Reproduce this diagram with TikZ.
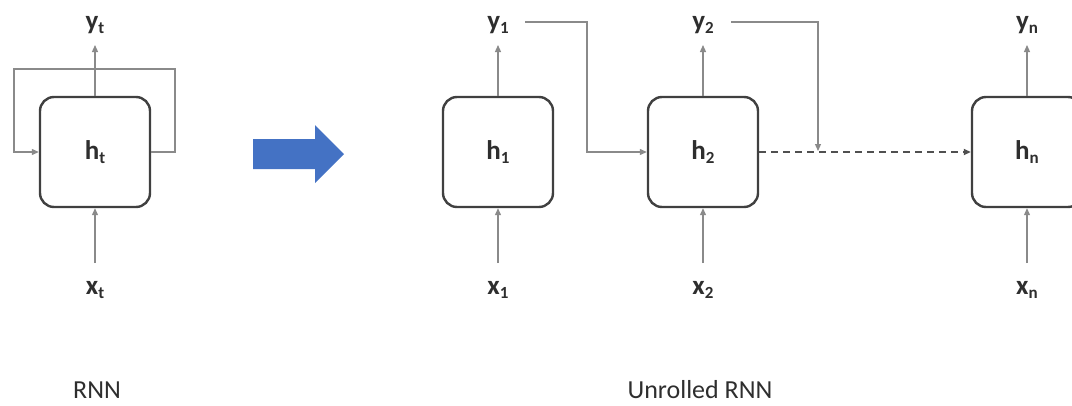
\documentclass[tikz,border=0pt]{standalone}
\usepackage{fontspec}
\setmainfont{Carlito}
\usetikzlibrary{arrows.meta}
\definecolor{boxgray}{HTML}{404040}
\definecolor{linegray}{HTML}{8A8A8A}
\definecolor{dashgray}{HTML}{505050}
\definecolor{txt}{HTML}{2E2E2E}
\definecolor{arrowblue}{HTML}{4472C4}
% subscript set in the text font
\newcommand\lowsub[1]{\raisebox{-0.35ex}{\fontsize{17}{17}\selectfont #1}}
\begin{document}
\begin{tikzpicture}[x=1pt,y=-1pt,
  cell/.style={draw=boxgray, line width=2.4pt, rounded corners=14pt,
    minimum width=110pt, minimum height=110pt, inner sep=0pt,
    font=\fontsize{27}{27}\selectfont\bfseries, text=txt},
  lbl/.style={font=\fontsize{27}{27}\selectfont\bfseries, inner sep=0pt, text=txt},
  caption/.style={font=\fontsize{26}{26}\selectfont, inner sep=0pt, text=txt},
  tip/.style={-{Triangle[length=7pt,width=6pt]}},
  conn/.style={draw=linegray, line width=1.2pt, tip},
  link/.style={draw=dashgray, line width=2pt, dash pattern=on 7pt off 5pt, tip}
]
\useasboundingbox (0,0) rectangle (1072,405);
\clip (0,0) rectangle (1072,405);

% folded RNN
\node[cell] (ht) at (95,152) {h\lowsub{t}};
\node[lbl] (yt) at (95,25) {y\lowsub{t}};
\node[lbl] (xt) at (95,290) {x\lowsub{t}};
\draw[conn] (ht.north) -- ([yshift=-20pt]yt.center);
\draw[conn] ([yshift=27pt]xt.center) -- (ht.south);
\coordinate (loopR) at (175,69);
\coordinate (loopL) at (14,152);
\draw[conn] (ht.east) -| (loopR) -| (loopL) -- (ht.west);

% unfold arrow
\fill[arrowblue] (253,139) -- (315,139) -- (315,125) -- (344,154)
  -- (315,183) -- (315,169) -- (253,169) -- cycle;

% unrolled RNN
\node[cell] (h1) at (498,152) {h\lowsub{1}};
\node[cell] (h2) at (703,152) {h\lowsub{2}};
\node[cell] (hn) at (1027,152) {h\lowsub{n}};

\node[lbl] (y1) at (498,25) {y\lowsub{1}};
\node[lbl] (y2) at (703,25) {y\lowsub{2}};
\node[lbl] (yn) at (1027,25) {y\lowsub{n}};

\node[lbl] (x1) at (498,290) {x\lowsub{1}};
\node[lbl] (x2) at (703,290) {x\lowsub{2}};
\node[lbl] (xn) at (1027,290) {x\lowsub{n}};

\foreach \i in {1,2,n}{
  \draw[conn] (h\i.north) -- ([yshift=-20pt]y\i.center);
  \draw[conn] ([yshift=27pt]x\i.center) -- (h\i.south);
}

% hidden-state links
\coordinate (y1out) at (525,22);
\coordinate (bend1) at (587,152);
\draw[conn] (y1out) -| (bend1) -- (h2.west);

\draw[link] (h2.east) -- (hn.west);
\coordinate (y2out) at (731,22);
\coordinate (drop2) at (818,151);
\draw[conn] (y2out) -| (drop2);

% captions
\node[caption] (c1) at (97,390) {RNN};
\node[caption] (c2) at (700,390) {Unrolled RNN};
\end{tikzpicture}
\end{document}
